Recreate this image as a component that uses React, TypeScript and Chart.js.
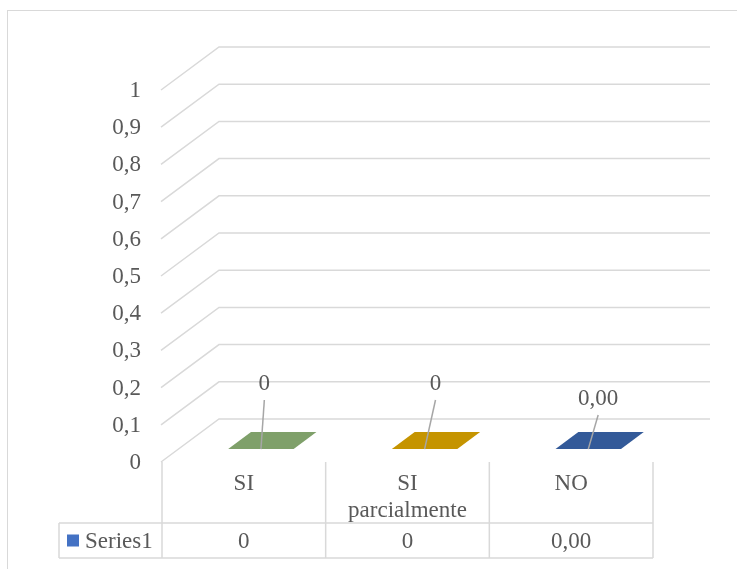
import React, { useEffect, useRef } from 'react';
import { Chart, registerables } from 'chart.js';

Chart.register(...registerables);

// ---- data ----
const categories: string[][] = [['SI'], ['SI', 'parcialmente'], ['NO']];
const seriesName = 'Series1';
const values: number[] = [0, 0, 0];
const valueDecimals: number[] = [0, 0, 2];
const yTicks: number[] = [0, 0.1, 0.2, 0.3, 0.4, 0.5, 0.6, 0.7, 0.8, 0.9, 1];

// ---- styles ----
const barColors = ['#7FA06A', '#C59400', '#335A99'];
const legendColor = '#4472C4';
const gridColor = '#D9D9D9';
const textColor = '#595959';
const FONT = '23px "Liberation Serif", "Times New Roman", serif';
const DEPTH = { x: 57, y: -43 };
const labelOffsets: number[][] = [[-8, -57.5], [-0.5, -57.5], [-1.5, -42.5]];

const fmt = (v: number, d: number) => v.toFixed(d).replace('.', ',');
const fmtTick = (v: number) => String(Math.round(v * 10) / 10).replace('.', ',');

const threeD = {
  id: 'threeD',
  beforeDatasetsDraw(chart: any) {
    const { ctx, chartArea, scales } = chart;
    const y = scales.y;
    ctx.save();
    // outer border
    ctx.strokeStyle = gridColor;
    ctx.lineWidth = 1;
    ctx.strokeRect(7.5, 10.5, 740, 580);
    // 3D gridlines
    ctx.lineWidth = 1.5;
    yTicks.forEach((v) => {
      const py = y.getPixelForValue(v);
      ctx.beginPath();
      ctx.moveTo(chartArea.left - 1, py);
      ctx.lineTo(chartArea.left + DEPTH.x, py + DEPTH.y);
      ctx.lineTo(chartArea.right + DEPTH.x, py + DEPTH.y);
      ctx.stroke();
    });
    // tick labels
    ctx.fillStyle = textColor;
    ctx.font = FONT;
    ctx.textAlign = 'right';
    ctx.textBaseline = 'middle';
    yTicks.forEach((v) => {
      ctx.fillText(fmtTick(v), chartArea.left - 21, y.getPixelForValue(v) + 1);
    });
    ctx.restore();
  },
  afterDatasetsDraw(chart: any) {
    const { ctx, chartArea, scales } = chart;
    const x = scales.x;
    const y = scales.y;
    const meta = chart.getDatasetMeta(0);
    const yBase = y.getPixelForValue(0);
    const f1 = 0.3, f2 = 0.7;
    ctx.save();
    meta.data.forEach((el: any, i: number) => {
      const xc = el.x;
      const w = el.width;
      const yVal = y.getPixelForValue(values[i]);
      const l = xc - w / 2, r = xc + w / 2;
      ctx.fillStyle = barColors[i];
      // front face
      if (yBase - yVal > 0) {
        ctx.fillRect(l + DEPTH.x * f1, yVal + DEPTH.y * f1, w, yBase - yVal);
      }
      // top face
      ctx.beginPath();
      ctx.moveTo(l + DEPTH.x * f1, yVal + DEPTH.y * f1);
      ctx.lineTo(r + DEPTH.x * f1, yVal + DEPTH.y * f1);
      ctx.lineTo(r + DEPTH.x * f2, yVal + DEPTH.y * f2);
      ctx.lineTo(l + DEPTH.x * f2, yVal + DEPTH.y * f2);
      ctx.closePath();
      ctx.fill();
      // label + leader
      const cx = xc + DEPTH.x * 0.5;
      const cy = yVal + DEPTH.y * 0.5;
      const lx = cx + labelOffsets[i][0];
      const ly = cy + labelOffsets[i][1];
      ctx.strokeStyle = '#A6A6A6';
      ctx.lineWidth = 1.5;
      ctx.beginPath();
      ctx.moveTo(lx, ly + 17);
      ctx.lineTo(xc + DEPTH.x * f1, yVal + DEPTH.y * f1);
      ctx.stroke();
      ctx.fillStyle = textColor;
      ctx.font = FONT;
      ctx.textAlign = 'center';
      ctx.textBaseline = 'middle';
      ctx.fillText(fmt(values[i], valueDecimals[i]), lx, ly + 1);
    });

    // data table
    const n = categories.length;
    const cw = (chartArea.right - chartArea.left) / n;
    const top = chartArea.bottom;
    const rowTop = top + 61;
    const rowBot = top + 96;
    const tableLeft = 59;
    ctx.strokeStyle = gridColor;
    ctx.lineWidth = 1.5;
    for (let i = 0; i <= n; i++) {
      const bx = x.getPixelForValue(0) - cw / 2 + i * cw;
      ctx.beginPath();
      ctx.moveTo(bx, top);
      ctx.lineTo(bx, rowBot);
      ctx.stroke();
    }
    ctx.beginPath();
    ctx.moveTo(tableLeft, rowTop);
    ctx.lineTo(chartArea.right, rowTop);
    ctx.moveTo(tableLeft, rowBot);
    ctx.lineTo(chartArea.right, rowBot);
    ctx.moveTo(tableLeft, rowTop);
    ctx.lineTo(tableLeft, rowBot);
    ctx.stroke();

    ctx.fillStyle = textColor;
    ctx.font = FONT;
    ctx.textAlign = 'center';
    ctx.textBaseline = 'middle';
    categories.forEach((lines, i) => {
      const px = x.getPixelForValue(i);
      lines.forEach((t, j) => ctx.fillText(t, px, top + 22 + j * 27));
      ctx.fillText(fmt(values[i], valueDecimals[i]), px, (rowTop + rowBot) / 2 + 1);
    });
    ctx.fillStyle = legendColor;
    ctx.fillRect(67, (rowTop + rowBot) / 2 - 6, 12, 12);
    ctx.fillStyle = textColor;
    ctx.textAlign = 'left';
    ctx.fillText(seriesName, 85, (rowTop + rowBot) / 2 + 1);
    ctx.restore();
  },
};

export default function App() {
  const ref = useRef<HTMLCanvasElement | null>(null);
  useEffect(() => {
    if (!ref.current) return;
    const chart = new Chart(ref.current, {
      type: 'bar',
      data: {
        labels: categories.map((c) => c.join(' ')),
        datasets: [
          {
            label: seriesName,
            data: values,
            backgroundColor: barColors,
            borderWidth: 0,
            barPercentage: 0.4,
            categoryPercentage: 1,
          },
        ],
      },
      options: {
        responsive: false,
        maintainAspectRatio: false,
        animation: false,
        layout: { padding: { left: 162, right: 84, top: 90, bottom: 107 } },
        plugins: { legend: { display: false }, tooltip: { enabled: false } },
        scales: {
          x: { type: 'category', offset: true, display: false },
          y: { min: 0, max: 1, display: false, ticks: { stepSize: 0.1 } },
        },
      },
      plugins: [threeD],
    });
    return () => chart.destroy();
  }, []);
  return (
    <div style={{ position: 'absolute', left: 0, top: 0, width: 737, height: 569, background: '#fff' }}>
      <canvas ref={ref} width={737} height={569} style={{ display: 'block' }} />
    </div>
  );
}
